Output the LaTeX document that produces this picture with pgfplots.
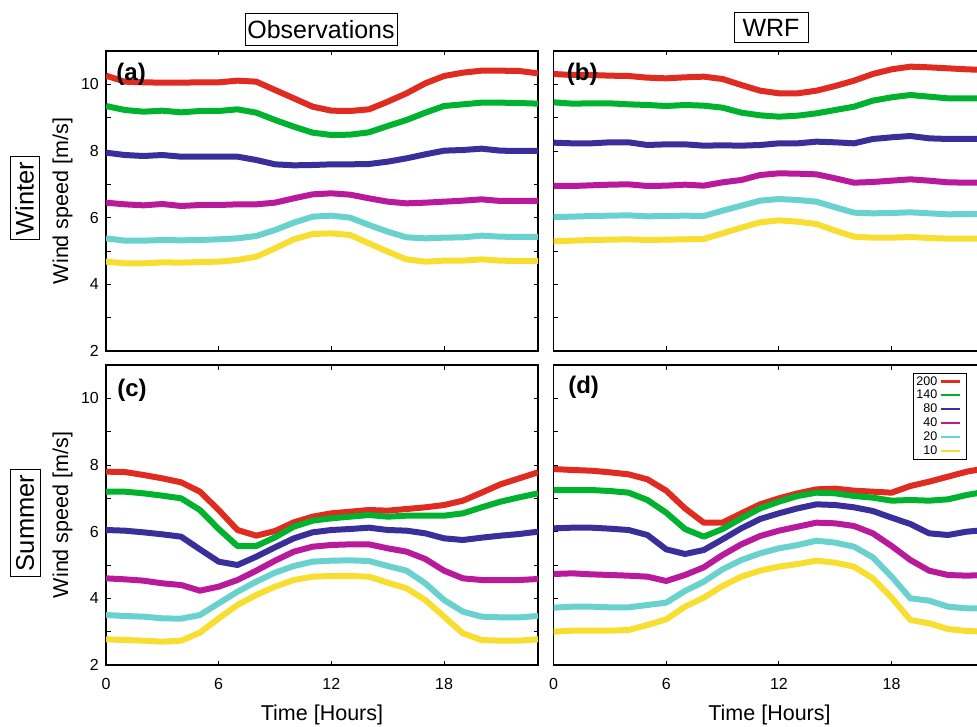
\documentclass[border=0pt]{standalone}
\usepackage{pgfplots}
\usepackage{pgfplotstable}
\pgfplotsset{compat=1.18}
\usepackage{fontspec}
\setmainfont{Liberation Sans}
\definecolor{cR}{RGB}{223,43,32}
\definecolor{cG}{RGB}{0,178,45}
\definecolor{cB}{RGB}{58,47,154}
\definecolor{cM}{RGB}{184,26,155}
\definecolor{cC}{RGB}{105,210,207}
\definecolor{cY}{RGB}{248,222,48}

\pgfplotstableread{
h r g b m c y
0 10.26 9.35 7.95 6.45 5.38 4.68
1 10.08 9.23 7.88 6.40 5.31 4.63
2 10.06 9.18 7.85 6.37 5.31 4.63
3 10.05 9.21 7.88 6.41 5.33 4.66
4 10.05 9.16 7.83 6.35 5.32 4.65
5 10.06 9.20 7.83 6.38 5.33 4.67
6 10.06 9.20 7.83 6.38 5.35 4.68
7 10.11 9.25 7.83 6.40 5.38 4.73
8 10.08 9.15 7.73 6.40 5.45 4.83
9 9.83 8.93 7.60 6.45 5.63 5.08
10 9.58 8.73 7.57 6.58 5.85 5.35
11 9.33 8.55 7.58 6.70 6.03 5.51
12 9.21 8.48 7.60 6.73 6.06 5.53
13 9.20 8.49 7.60 6.69 6.00 5.48
14 9.25 8.56 7.61 6.58 5.78 5.23
15 9.48 8.75 7.68 6.48 5.58 4.98
16 9.73 8.93 7.78 6.43 5.41 4.75
17 10.03 9.15 7.90 6.45 5.38 4.68
18 10.25 9.35 8.01 6.48 5.40 4.71
19 10.35 9.40 8.03 6.51 5.41 4.71
20 10.41 9.45 8.07 6.55 5.46 4.75
21 10.41 9.45 8.01 6.50 5.43 4.71
22 10.40 9.44 8.00 6.50 5.42 4.70
23 10.33 9.42 8.00 6.50 5.42 4.70
}\tblA

\pgfplotstableread{
h r g b m c y
0 10.31 9.46 8.25 6.95 6.02 5.29
1 10.28 9.42 8.23 6.95 6.03 5.31
2 10.28 9.43 8.23 6.97 6.05 5.33
3 10.26 9.43 8.26 6.99 6.06 5.34
4 10.25 9.40 8.26 7.00 6.07 5.35
5 10.20 9.38 8.18 6.95 6.04 5.33
6 10.18 9.35 8.20 6.96 6.05 5.34
7 10.21 9.38 8.20 6.99 6.06 5.35
8 10.23 9.36 8.16 6.96 6.05 5.36
9 10.16 9.30 8.17 7.06 6.21 5.53
10 9.98 9.15 8.16 7.13 6.36 5.70
11 9.81 9.07 8.18 7.28 6.51 5.86
12 9.73 9.03 8.23 7.33 6.56 5.92
13 9.73 9.06 8.23 7.32 6.53 5.88
14 9.81 9.13 8.28 7.30 6.48 5.81
15 9.95 9.23 8.26 7.18 6.31 5.61
16 10.11 9.33 8.23 7.05 6.15 5.43
17 10.31 9.51 8.36 7.07 6.13 5.40
18 10.45 9.61 8.41 7.11 6.14 5.40
19 10.53 9.68 8.45 7.15 6.16 5.42
20 10.51 9.63 8.38 7.11 6.13 5.39
21 10.48 9.58 8.36 7.06 6.10 5.37
22 10.45 9.58 8.36 7.05 6.11 5.37
23 10.43 9.58 8.37 7.05 6.10 5.37
}\tblB

\pgfplotstableread{
h r g b m c y
0 7.80 7.20 6.05 4.60 3.50 2.77
1 7.79 7.20 6.03 4.57 3.47 2.75
2 7.70 7.15 5.98 4.53 3.45 2.73
3 7.60 7.08 5.92 4.45 3.40 2.70
4 7.48 7.00 5.85 4.40 3.39 2.73
5 7.20 6.65 5.47 4.23 3.50 2.97
6 6.65 6.08 5.10 4.35 3.85 3.40
7 6.05 5.57 5.00 4.55 4.20 3.80
8 5.88 5.57 5.25 4.83 4.50 4.10
9 6.02 5.83 5.53 5.13 4.77 4.35
10 6.28 6.15 5.80 5.40 4.97 4.55
11 6.45 6.33 5.98 5.55 5.10 4.65
12 6.55 6.40 6.05 5.60 5.13 4.67
13 6.60 6.45 6.08 5.62 5.14 4.67
14 6.65 6.50 6.12 5.62 5.12 4.65
15 6.63 6.45 6.05 5.50 4.97 4.47
16 6.68 6.48 6.03 5.40 4.83 4.30
17 6.73 6.48 5.95 5.18 4.45 3.95
18 6.80 6.48 5.80 4.83 3.95 3.45
19 6.93 6.55 5.75 4.60 3.60 2.95
20 7.17 6.73 5.82 4.55 3.45 2.75
21 7.42 6.90 5.88 4.55 3.43 2.73
22 7.60 7.03 5.93 4.55 3.43 2.73
23 7.78 7.15 6.00 4.58 3.47 2.77
}\tblC

\pgfplotstableread{
h r g b m c y
0 7.88 7.25 6.10 4.73 3.72 3.00
1 7.85 7.25 6.12 4.75 3.75 3.03
2 7.83 7.25 6.12 4.72 3.75 3.03
3 7.78 7.22 6.09 4.70 3.73 3.03
4 7.72 7.17 6.05 4.68 3.73 3.05
5 7.57 6.95 5.90 4.65 3.80 3.20
6 7.23 6.57 5.47 4.52 3.87 3.37
7 6.70 6.08 5.33 4.70 4.22 3.75
8 6.27 5.85 5.45 4.93 4.50 4.02
9 6.27 6.08 5.77 5.30 4.87 4.37
10 6.55 6.40 6.10 5.62 5.15 4.65
11 6.82 6.70 6.38 5.87 5.35 4.83
12 7.00 6.90 6.55 6.03 5.50 4.95
13 7.15 7.07 6.70 6.15 5.60 5.03
14 7.27 7.17 6.82 6.27 5.73 5.13
15 7.29 7.15 6.80 6.25 5.67 5.07
16 7.23 7.07 6.73 6.17 5.55 4.95
17 7.20 7.02 6.62 5.95 5.23 4.60
18 7.17 6.93 6.42 5.57 4.65 4.02
19 7.37 6.95 6.23 5.15 4.00 3.35
20 7.50 6.93 5.95 4.83 3.93 3.25
21 7.65 6.97 5.90 4.70 3.75 3.08
22 7.80 7.10 6.00 4.68 3.70 3.02
23 7.90 7.20 6.05 4.70 3.70 3.00
}\tblD

\pgfplotsset{
  panel/.style={
    scale only axis, width=432pt, height=300pt,
    xmin=0, xmax=23, ymin=2, ymax=11,
    xtick={0,6,12,18}, ytick={2,4,6,8,10}, minor ytick={3,5,7,9},
    tick align=inside, major tick length=4.5pt, minor tick length=4.5pt,
    tick style={black, line width=0.9pt},
    axis line style={black, line width=1.4pt},
    tick label style={font=\fontsize{16}{19}\selectfont},
    /pgf/number format/assume math mode=true,
    yticklabel style={inner sep=0pt, xshift=-7pt},
    xticklabel style={inner sep=0pt, yshift=-13pt},
    label style={font=\fontsize{21.5}{25}\selectfont},
    ylabel style={at={(axis description cs:-0.1007,0.5)}, anchor=center},
    xlabel style={at={(axis description cs:0.5,-0.165)}, anchor=center},
  },
}
\tikzset{
  wind/.style={line width=6pt, line join=round},
  plab/.style={anchor=west, font=\fontsize{24}{28}\selectfont\bfseries},
}

\begin{document}
\begin{tikzpicture}
\clip (0pt,0pt) rectangle (977pt,726pt);
\useasboundingbox (0pt,0pt) rectangle (977pt,726pt);

% (a)
\begin{axis}[panel, at={(106pt,375pt)}, anchor=south west, xticklabels={}, ylabel={Wind speed [m/s]}]
\addplot[wind, cR] table[x=h,y=r]{\tblA};
\addplot[wind, cG] table[x=h,y=g]{\tblA};
\addplot[wind, cB] table[x=h,y=b]{\tblA};
\addplot[wind, cM] table[x=h,y=m]{\tblA};
\addplot[wind, cC] table[x=h,y=c]{\tblA};
\addplot[wind, cY] table[x=h,y=y]{\tblA};
\node[plab] at (axis description cs:0.016,0.922) {(a)};
\end{axis}

% (b)
\begin{axis}[panel, at={(553.5pt,375pt)}, anchor=south west, xticklabels={}, yticklabels={}]
\addplot[wind, cR] table[x=h,y=r]{\tblB};
\addplot[wind, cG] table[x=h,y=g]{\tblB};
\addplot[wind, cB] table[x=h,y=b]{\tblB};
\addplot[wind, cM] table[x=h,y=m]{\tblB};
\addplot[wind, cC] table[x=h,y=c]{\tblB};
\addplot[wind, cY] table[x=h,y=y]{\tblB};
\node[plab] at (axis description cs:0.023,0.923) {(b)};
\end{axis}

% (c)
\begin{axis}[panel, at={(106pt,61pt)}, anchor=south west, ylabel={Wind speed [m/s]}, xlabel={Time [Hours]}]
\addplot[wind, cR] table[x=h,y=r]{\tblC};
\addplot[wind, cG] table[x=h,y=g]{\tblC};
\addplot[wind, cB] table[x=h,y=b]{\tblC};
\addplot[wind, cM] table[x=h,y=m]{\tblC};
\addplot[wind, cC] table[x=h,y=c]{\tblC};
\addplot[wind, cY] table[x=h,y=y]{\tblC};
\node[plab] at (axis description cs:0.018,0.915) {(c)};
\end{axis}

% (d)
\begin{axis}[panel, at={(553.5pt,61pt)}, anchor=south west, yticklabels={}, xlabel={Time [Hours]},
  legend style={at={(0.958,0.974)}, anchor=north east, draw=black, line width=1pt,
    font=\fontsize{12.5}{13}\selectfont, inner xsep=2pt, inner ysep=2pt, row sep=1.7pt,
    column sep=1.5pt, cells={anchor=east}, nodes={inner sep=1pt}},
  legend plot pos=right,
  legend image code/.code={\draw[#1, line width=2.2pt] (0pt,0pt) -- (19pt,0pt); \path (21pt,0pt);}]
\addplot[wind, cR] table[x=h,y=r]{\tblD}; \addlegendentry{200}
\addplot[wind, cG] table[x=h,y=g]{\tblD}; \addlegendentry{140}
\addplot[wind, cB] table[x=h,y=b]{\tblD}; \addlegendentry{80}
\addplot[wind, cM] table[x=h,y=m]{\tblD}; \addlegendentry{40}
\addplot[wind, cC] table[x=h,y=c]{\tblD}; \addlegendentry{20}
\addplot[wind, cY] table[x=h,y=y]{\tblD}; \addlegendentry{10}
\node[plab] at (axis description cs:0.026,0.927) {(d)};
\end{axis}

% column titles and row labels
\node[draw, line width=1pt, inner sep=0pt, minimum width=152pt, minimum height=32pt,
  font=\fontsize{25}{30}\selectfont] at (321pt,696.5pt) {Observations};
\node[draw, line width=1pt, inner sep=0pt, minimum width=74pt, minimum height=30pt,
  font=\fontsize{25}{30}\selectfont] at (771pt,698pt) {WRF};
\node[draw, line width=1pt, inner sep=0pt, minimum width=83pt, minimum height=29pt, rotate=90,
  font=\fontsize{25.5}{30}\selectfont] at (24.5pt,527.5pt) {Winter};
\node[draw, line width=1pt, inner sep=0pt, minimum width=107pt, minimum height=30pt, rotate=90,
  font=\fontsize{25.5}{30}\selectfont] at (25pt,203pt) {Summer};
\end{tikzpicture}
\end{document}
